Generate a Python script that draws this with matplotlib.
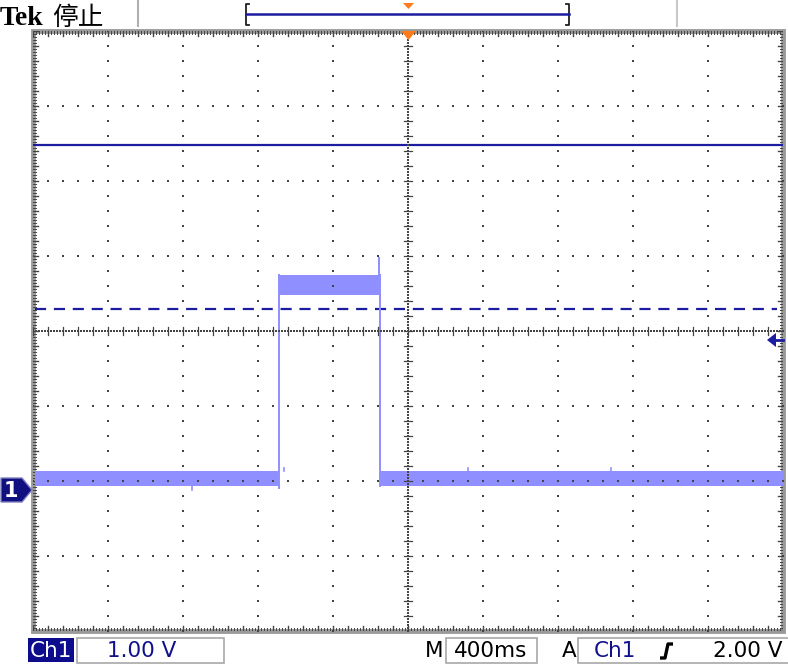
import numpy as np
import matplotlib.pyplot as plt
from matplotlib.patches import Polygon, Rectangle

# scope settings
time_per_div = 0.4      # s/div  (M 400ms)
volt_per_div = 1.0      # V/div  (Ch1 1.00 V)
ch1_offset_div = -2.12  # ground marker position
trigger_level = 2.00    # V

# Ch1 trace, times in s, volts in V
trace_start, trace_end = -1.99, 2.0
pulse_rise, pulse_fall = -0.688, -0.149
low_band = [0.06, 0.26]
high_band = [2.60, 2.87]
spike_t, spike_v = -0.156, 3.10
glitch_t = [-1.15, -0.66, 0.32, 1.08]
glitch_v = [0.00, 0.30, 0.30, 0.29]

# the two horizontal markers
solid_level = 4.60
dashed_level = 2.41

TRACE = '#8f8fff'
NAVY = '#1c1ca0'
DOT = '#444444'
ORANGE = '#ff7a1a'


def vy(v):
    return v / volt_per_div + ch1_offset_div


def tx(t):
    return t / time_per_div


fig = plt.figure(figsize=(7.88, 6.65), dpi=100)
fig.patch.set_facecolor('white')
ax = fig.add_axes([33 / 788, (665 - 631) / 665, 750 / 788, 600 / 665])
ax.set_xlim(-5, 5)
ax.set_ylim(-4, 4)
ax.axis('off')

# graticule dots (drawn over the trace, like on the scope)
minor = np.arange(-5, 5.001, 0.2)
minor_y = np.arange(-4, 4.001, 0.2)
for gx in range(-4, 5):
    if gx == 0:
        continue
    ax.scatter(np.full(len(minor_y), gx), minor_y, s=2.0, marker='s', color=DOT, lw=0, zorder=5)
for gy in range(-3, 4):
    if gy == 0:
        continue
    ax.scatter(minor, np.full(len(minor), gy), s=2.0, marker='s', color=DOT, lw=0, zorder=5)

# centre crosshair with ticks
fine_x = np.arange(-5, 5.001, 0.04)
fine_y = np.arange(-4, 4.001, 0.04)
ax.scatter(fine_x, np.zeros(len(fine_x)), s=1.0, marker='s', color=DOT, lw=0, zorder=5)
ax.scatter(np.zeros(len(fine_y)), fine_y, s=1.0, marker='s', color=DOT, lw=0, zorder=5)
for m in minor:
    ax.plot([m, m], [-0.05, 0.05], color=DOT, lw=0.9, zorder=5)
for m in minor_y:
    ax.plot([-0.05, 0.05], [m, m], color=DOT, lw=0.9, zorder=5)

# border with ticks
ax.add_patch(Rectangle((-5, -4), 10, 8, fill=False, ec='#9a9a9a', lw=3.5, zorder=2, clip_on=False))
for m in fine_x:
    ax.plot([m, m], [3.96, 4.0], color=DOT, lw=0.7, zorder=2)
    ax.plot([m, m], [-4.0, -3.96], color=DOT, lw=0.7, zorder=2)
for m in fine_y:
    ax.plot([-5, -4.96], [m, m], color=DOT, lw=0.7, zorder=2)
    ax.plot([4.96, 5], [m, m], color=DOT, lw=0.7, zorder=2)
for m in minor:
    ax.plot([m, m], [3.93, 4.0], color=DOT, lw=1.0, zorder=2)
    ax.plot([m, m], [-4.0, -3.93], color=DOT, lw=1.0, zorder=2)
for m in minor_y:
    ax.plot([-5, -4.93], [m, m], color=DOT, lw=1.0, zorder=2)
    ax.plot([4.93, 5], [m, m], color=DOT, lw=1.0, zorder=2)

# horizontal markers
ax.plot([-5, 5], [vy(solid_level)] * 2, color=NAVY, lw=1.6, zorder=3)
ax.plot([tx(trace_start), 4.92], [vy(dashed_level)] * 2, color=NAVY, lw=1.6,
        ls=(0, (5, 3.5)), zorder=3)

# Ch1 trace as a noise band
t_seg = [trace_start, pulse_rise, pulse_rise, pulse_fall, pulse_fall, trace_end]
lo = [low_band[0], low_band[0], high_band[0], high_band[0], low_band[0], low_band[0]]
hi = [low_band[1], low_band[1], high_band[1], high_band[1], low_band[1], low_band[1]]
xs = [tx(t) for t in t_seg]
ax.fill_between(xs, [vy(v) for v in lo], [vy(v) for v in hi], color=TRACE, lw=0, zorder=4)
ax.plot([tx(pulse_rise)] * 2, [vy(low_band[0] - 0.03), vy(high_band[1])], color=TRACE, lw=1.4, zorder=4)
ax.plot([tx(pulse_fall)] * 2, [vy(low_band[0]), vy(high_band[1])], color=TRACE, lw=1.4, zorder=4)
ax.plot([tx(spike_t)] * 2, [vy(high_band[1]), vy(spike_v)], color=TRACE, lw=1.4, zorder=4)
for gt, gv in zip(glitch_t, glitch_v):
    base = low_band[0] if gv < low_band[0] else low_band[1]
    ax.plot([tx(gt)] * 2, [vy(base), vy(gv)], color=TRACE, lw=1.2, zorder=4)

# overlay for screen chrome (pixel coordinates)
ov = fig.add_axes([0, 0, 1, 1], zorder=5)
ov.set_xlim(0, 788)
ov.set_ylim(665, 0)
ov.axis('off')
ov.patch.set_alpha(0)

ov.text(0, 25, 'Tek', family='Liberation Serif', weight='bold', fontsize=20, va='baseline')
ov.text(52, 25, '停止', family=['Noto Sans CJK SC', 'DejaVu Sans'], fontsize=18.5, va='baseline')
ov.plot([138, 138], [0, 26], color='#b0b0b0', lw=1.5)
ov.plot([677, 677], [0, 26], color='#c8c8c8', lw=1.5)

# record view bracket
ov.plot([249, 246, 246, 249], [4, 4, 25, 25], color='#202020', lw=1.3)
ov.plot([566, 569, 569, 566], [4, 4, 25, 25], color='#202020', lw=1.3)
ov.plot([246, 569], [14, 14], color=NAVY, lw=1.8)
ov.add_patch(Polygon([(403, 3), (414, 3), (408.5, 9)], closed=True, color=ORANGE, lw=0))
ov.add_patch(Polygon([(401, 31), (416, 31), (408.5, 40)], closed=True, color=ORANGE, lw=0))

# trigger level arrow
yt = 331 - vy(trigger_level) * 75
ov.add_patch(Polygon([(767, yt), (776, yt - 7), (776, yt + 7)], closed=True, color=NAVY, lw=0))
ov.plot([775, 783], [yt, yt], color=NAVY, lw=2)

# ch1 ground marker
yg = 331 - ch1_offset_div * 75
ov.add_patch(Polygon([(1, yg - 12), (22, yg - 12), (32, yg), (22, yg + 12), (1, yg + 12)],
                     closed=True, fc='#101080', ec='#8080c0', lw=1))
ov.text(11, yg + 1, '1', color='white', fontsize=15, weight='bold', ha='center', va='center')

# footer readouts
ov.add_patch(Rectangle((28, 638), 46, 24, fc='#0c0c8c', ec='none'))
ov.text(51, 651, 'Ch1', color='white', fontsize=15.5, ha='center', va='center')
ov.add_patch(Rectangle((77, 638), 147, 25, fc='white', ec='#a8a8a8', lw=1.2))
ov.text(142, 651, '1.00 V', color='#10108c', fontsize=15.5, ha='center', va='center')
ov.text(434, 651, 'M', color='black', fontsize=15.5, ha='center', va='center')
ov.add_patch(Rectangle((446, 638), 91, 25, fc='white', ec='#a8a8a8', lw=1.2))
ov.text(491, 651, '400ms', color='black', fontsize=15.5, ha='center', va='center')
ov.text(569, 651, 'A', color='black', fontsize=15.5, ha='center', va='center')
ov.add_patch(Rectangle((578, 638), 215, 25, fc='white', ec='#a8a8a8', lw=1.2))
ov.text(615, 651, 'Ch1', color='#10108c', fontsize=15.5, ha='center', va='center')
ov.plot([660, 665, 668, 673], [658, 658, 644, 644], color='black', lw=2.4, solid_capstyle='butt')
ov.text(783, 651, '2.00 V', color='black', fontsize=15.5, ha='right', va='center')

fig.savefig('out.png', dpi=100)
